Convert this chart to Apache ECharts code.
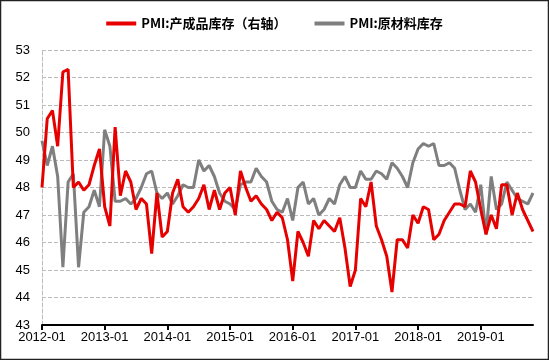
<!DOCTYPE html>
<html><head><meta charset="utf-8">
<script src="https://cdn.jsdelivr.net/npm/echarts@6/dist/echarts.min.js"></script>
<style>html,body{margin:0;padding:0;background:#fff}#c{width:549px;height:360px}</style>
</head><body><div id="c"></div>
<script>
var categories = [];
for (var y = 2012; y <= 2019; y++) for (var m = 1; m <= 12; m++) {
  if (y === 2019 && m > 11) break;
  categories.push(y + '-' + (m < 10 ? '0' + m : m));
}
var seriesNames = ['PMI:产成品库存（右轴）', 'PMI:原材料库存'];
var finishedGoods = [48.0,50.5,50.8,49.5,52.2,52.3,48.0,48.2,47.9,48.1,
48.8,49.4,47.3,46.6,50.2,47.7,48.6,48.2,47.2,47.6,
47.4,45.6,47.8,46.2,46.4,47.8,48.3,47.3,47.1,47.3,
47.6,48.1,47.2,47.9,47.2,47.8,48.0,47.0,48.6,48.0,
47.5,47.7,47.4,47.2,46.8,47.1,46.9,46.1,44.6,46.4,
46.0,45.5,46.8,46.5,46.8,46.6,46.4,46.9,45.8,44.4,
45.0,47.6,47.3,48.2,46.6,46.1,45.5,44.2,46.1,46.1,
45.8,47.0,46.7,47.3,47.2,46.1,46.3,46.8,47.1,47.4,
47.4,47.3,48.6,48.2,47.2,46.3,47.0,46.5,48.1,48.1,
47.0,47.8,47.2,46.8,46.4];
var rawMaterials = [49.7,48.8,49.5,48.4,45.1,48.2,48.5,45.1,47.1,47.3,
47.9,47.3,50.1,49.5,47.5,47.5,47.6,47.4,47.6,48.0,
48.5,48.6,47.8,47.6,47.8,47.4,47.7,48.1,48.0,48.0,
49.0,48.6,48.8,48.4,47.8,47.5,47.4,47.2,48.1,48.2,
48.2,48.7,48.4,48.2,47.5,47.2,47.1,47.6,46.8,48.0,
48.2,47.4,47.6,47.0,47.2,47.6,47.4,48.1,48.4,48.0,
48.0,48.6,48.3,48.3,48.6,48.5,48.3,48.9,48.7,48.4,
48.0,48.9,49.4,49.6,49.5,49.6,48.8,48.8,48.9,48.7,
47.9,47.2,47.4,47.1,48.1,46.3,48.4,47.2,47.4,48.2,
47.9,47.6,47.5,47.4,47.8];

var chart = echarts.init(document.getElementById('c'));
chart.setOption({
  animation: false,
  graphic: [{type:'rect', shape:{x:0.5,y:0.5,width:548,height:359}, style:{fill:'none',stroke:'#222',lineWidth:1.5}, silent:true}],
  legend: {
    top: 12, left: 'center', itemGap: 28, itemWidth: 30, itemHeight: 4, icon: 'rect',
    textStyle: {fontFamily: 'Noto Sans CJK SC', fontWeight: 'bold', fontSize: 13, color: '#000'},
    data: seriesNames
  },
  grid: {left: 42, right: 16, top: 50, bottom: 35},
  xAxis: {
    type: 'category', data: categories, boundaryGap: false,
    axisLine: {lineStyle: {color: '#000', width: 2}},
    axisTick: {interval: 11, length: 5, lineStyle: {color: '#000', width: 2}},
    axisLabel: {interval: 11, color: '#000', fontFamily: 'Liberation Sans', fontSize: 13, margin: 6},
    splitLine: {show: false}
  },
  yAxis: [{
    type: 'value', min: 43, max: 53, interval: 1,
    axisLine: {show: true, lineStyle: {color: '#bbb', type: 'dashed', width: 1}},
    axisTick: {show: false},
    axisLabel: {color: '#000', fontFamily: 'Liberation Sans', fontSize: 13, margin: 12},
    splitLine: {lineStyle: {color: '#bbb', type: 'dashed', width: 1}}
  }, {
    type: 'value', min: 43, max: 53, interval: 1, show: false, splitLine: {show: false}
  }],
  series: [{
    name: seriesNames[0], type: 'line', yAxisIndex: 1, data: finishedGoods,
    showSymbol: false, symbol: 'none', lineStyle: {color: '#e60000', width: 3}, itemStyle: {color: '#e60000'}, z: 3
  }, {
    name: seriesNames[1], type: 'line', yAxisIndex: 0, data: rawMaterials,
    showSymbol: false, symbol: 'none', lineStyle: {color: '#7f7f7f', width: 3}, itemStyle: {color: '#7f7f7f'}, z: 2
  }]
});
</script></body></html>
